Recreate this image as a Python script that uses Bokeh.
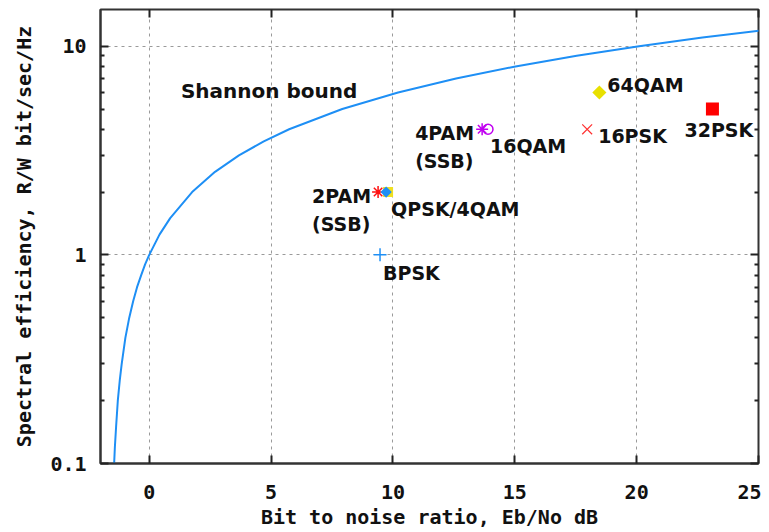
from bokeh.plotting import figure
from bokeh.models import FixedTicker, LinearAxis, LogAxis, ColumnDataSource
from bokeh.embed import file_html
from bokeh.resources import INLINE
from bokeh.core.properties import value

# Shannon bound: spectral efficiency vs Eb/No (dB)
shannon_eff = [0.1, 0.12, 0.15, 0.2, 0.25, 0.3, 0.4, 0.5, 0.6, 0.7, 0.8, 0.9, 1.0, 1.25, 1.5, 2.0,
               2.5, 3.0, 3.5, 4.0, 5.0, 6.0, 7.0, 8.0, 9.0, 10.0, 11.0, 12.0]
shannon_ebno = [-1.44, -1.41, -1.36, -1.29, -1.21, -1.13, -0.98, -0.82, -0.66, -0.50, -0.33, -0.17, 0.0,
                0.42, 0.86, 1.76, 2.70, 3.68, 4.70, 5.74, 7.92, 10.21, 12.59, 15.03, 17.54, 20.10, 22.70, 25.33]

# Modulation schemes
mod_names = ["BPSK", "2PAM (SSB)", "QPSK/4QAM (bg)", "QPSK/4QAM", "4PAM (SSB)", "16QAM", "16PSK", "64QAM", "32PSK"]
mod_ebno = [9.47, 9.39, 9.8, 9.72, 13.66, 13.9, 17.97, 18.47, 23.11]
mod_eff = [1, 2, 2, 2, 4, 4, 4, 6, 5]

# tick values
x_ticks = [0, 5, 10, 15, 20, 25]
y_ticks = [0.1, 1, 10]
y_tick_labels = ["0.1", "1", "10"]
y_minor = [0.2, 0.3, 0.4, 0.5, 0.6, 0.7, 0.8, 0.9, 2, 3, 4, 5, 6, 7, 8, 9]

p = figure(width=761, height=532, x_range=(-2, 25), y_range=(0.1, 15), y_axis_type="log",
           output_backend="svg", toolbar_location=None,
           min_border_left=100, min_border_right=3, min_border_top=9, min_border_bottom=69)
p.background_fill_color = "white"
p.border_fill_color = "white"
p.outline_line_color = "#333333"
p.outline_line_width = 2

xt = FixedTicker(ticks=x_ticks)
yt = FixedTicker(ticks=y_ticks, minor_ticks=y_minor)
p.xaxis.ticker = xt
p.yaxis.ticker = yt
p.yaxis.major_label_overrides = {t: l for t, l in zip(y_ticks, y_tick_labels)}

mono = "DejaVu Sans Mono"
for ax in (p.xaxis[0], p.yaxis[0]):
    ax.axis_line_color = "#333333"
    ax.axis_line_width = 2
    ax.major_tick_in = 8
    ax.major_tick_out = 0
    ax.minor_tick_in = 4
    ax.minor_tick_out = 0
    ax.major_tick_line_color = "#222222"
    ax.major_tick_line_width = 2
    ax.minor_tick_line_color = "#222222"
    ax.minor_tick_line_width = 2
    ax.major_label_text_font = mono
    ax.major_label_text_font_style = "bold"
    ax.major_label_text_font_size = "20px"
    ax.major_label_text_color = "#111111"
    ax.axis_label_text_font = mono
    ax.axis_label_text_font_style = "bold"
    ax.axis_label_text_font_size = "20px"
    ax.axis_label_text_color = "#111111"

p.xaxis.minor_tick_line_color = None
p.xaxis.major_label_standoff = 21
p.xaxis.axis_label = "Bit to noise ratio, Eb/No dB"
p.xaxis.axis_label_standoff = 3
p.yaxis.major_label_standoff = 14
p.yaxis.axis_label = "Spectral efficiency, R/W bit/sec/Hz"
p.yaxis.axis_label_standoff = 11

# mirrored ticks (top, right)
top = LinearAxis(ticker=x_ticks, major_label_text_font_size="0px", major_label_standoff=0,
                 major_tick_in=8, major_tick_out=0, minor_tick_out=0, minor_tick_in=0,
                 axis_line_color=None, major_tick_line_color="#222222", major_tick_line_width=2,
                 major_label_text_color=None)
right = LogAxis(ticker=FixedTicker(ticks=y_ticks, minor_ticks=y_minor), major_label_text_font_size="0px",
                major_label_standoff=0, major_tick_in=8, major_tick_out=0, minor_tick_in=4, minor_tick_out=0,
                axis_line_color=None, major_tick_line_color="#222222", major_tick_line_width=2,
                minor_tick_line_color="#222222", minor_tick_line_width=2, major_label_text_color=None)
p.add_layout(top, "above")
p.add_layout(right, "right")

for g in (p.xgrid[0], p.ygrid[0]):
    g.grid_line_color = "#9a9a9a"
    g.grid_line_dash = "3 4"
    g.grid_line_width = 1

# Shannon bound
p.line(shannon_ebno, shannon_eff, line_color="#1e8ff5", line_width=2)

# markers
m = {n: (x, y) for n, x, y in zip(mod_names, mod_ebno, mod_eff)}
def pt(name):
    return [m[name][0]], [m[name][1]]

x, y = pt("BPSK")
p.scatter(x, y, marker="cross", size=13, line_color="#1e8ff5", line_width=1.5)
x, y = pt("2PAM (SSB)")
p.scatter(x, y, marker="asterisk", size=12, line_color="#ff1010", line_width=1.5)
x, y = pt("QPSK/4QAM (bg)")
p.scatter(x, y, marker="square", size=10, fill_color="#f0e020", line_color=None)
x, y = pt("QPSK/4QAM")
p.scatter(x, y, marker="square", size=8, angle=0.785398, fill_color="#1e8ff5", line_color=None)
x, y = pt("4PAM (SSB)")
p.scatter(x, y, marker="asterisk", size=12, line_color="#c000f0", line_width=1.5)
x, y = pt("16QAM")
p.scatter(x, y, marker="circle", size=10, fill_color=None, line_color="#c000f0", line_width=1.5)
x, y = pt("16PSK")
p.scatter(x, y, marker="x", size=14, line_color="#ff3030", line_width=1.2)
x, y = pt("64QAM")
p.scatter(x, y, marker="square", size=10, angle=0.785398, fill_color="#e8e000", line_color=None)
x, y = pt("32PSK")
p.scatter(x, y, marker="square", size=13, fill_color="#ff0000", line_color=None)

# labels anchored to their points (pixel offsets)
lab_text = ["BPSK", "2PAM", "(SSB)", "QPSK/4QAM", "4PAM", "(SSB)", "16QAM", "16PSK", "64QAM", "32PSK"]
lab_anchor = ["BPSK", "2PAM (SSB)", "2PAM (SSB)", "QPSK/4QAM", "4PAM (SSB)", "4PAM (SSB)", "16QAM", "16PSK", "64QAM", "32PSK"]
lab_dx = [3, -66, -66, 5, -67, -67, 2, 11, 8, -28]
lab_dy = [18, 4, 32, 17, 4, 32, 17, 7, -8, 21]
src = ColumnDataSource(dict(x=[m[a][0] for a in lab_anchor], y=[m[a][1] for a in lab_anchor],
                            text=lab_text, dx=lab_dx, dy=lab_dy))
p.text(x="x", y="y", text="text", x_offset="dx", y_offset="dy", source=src,
       text_font=value("DejaVu Sans"), text_font_style="bold", text_font_size="19px",
       text_align="left", text_baseline="middle", text_color="#111111")

p.text(x=[1.3], y=[6.1], text=["Shannon bound"], text_font=value("DejaVu Sans"), text_font_style="bold",
       text_font_size="20px", text_align="left", text_baseline="middle", text_color="#111111")

open("out.html", "w").write(file_html(p, INLINE))
